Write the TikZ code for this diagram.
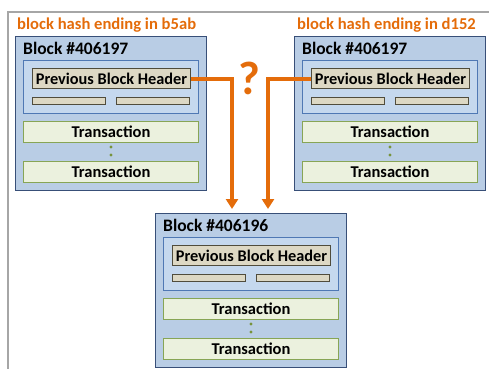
\documentclass[tikz,border=0pt]{standalone}
\usepackage{fontspec}
\setmainfont{Carlito}
\usetikzlibrary{arrows.meta}
\definecolor{orng}{RGB}{228,108,10}
\definecolor{blkfill}{RGB}{185,205,229}
\definecolor{blkline}{RGB}{56,79,120}
\definecolor{hdrfill}{RGB}{197,216,238}
\definecolor{hdrline}{RGB}{79,120,180}
\definecolor{pbhfill}{RGB}{221,216,196}
\definecolor{pbhline}{RGB}{80,76,60}
\definecolor{txfill}{RGB}{235,241,222}
\definecolor{txline}{RGB}{135,165,85}
\definecolor{dotc}{RGB}{119,147,60}
\tikzset{
  >={Triangle[length=10pt,width=12pt]},
  blk/.style ={draw=blkline, fill=blkfill, line width=1.2pt, anchor=north west, inner sep=0pt,
               minimum width=191pt, minimum height=154pt},
  hdr/.style ={draw=hdrline, fill=hdrfill, line width=1pt, anchor=north west, inner sep=0pt,
               minimum width=175pt, minimum height=53pt},
  pbh/.style ={draw=pbhline, fill=pbhfill, line width=1pt, anchor=north west, inner sep=0pt,
               minimum width=158pt, minimum height=20pt, font=\fontsize{16.3}{18}\selectfont\bfseries},
  bar/.style ={draw=pbhline, fill=pbhfill, line width=0.8pt, anchor=north west, inner sep=0pt,
               minimum width=73pt, minimum height=7pt},
  tx/.style  ={draw=txline, fill=txfill, line width=1pt, anchor=north west, inner sep=0pt,
               minimum width=175pt, minimum height=21pt, font=\fontsize{16.5}{18}\selectfont\bfseries},
  ttl/.style ={anchor=base west, inner sep=0pt, font=\fontsize{17.5}{19}\selectfont\bfseries},
  lbl/.style ={anchor=base west, inner sep=0pt, text=orng, font=\fontsize{16.6}{19}\selectfont\bfseries},
  qm/.style  ={inner sep=0pt, text=orng, font=\fontsize{47}{50}\selectfont\bfseries},
  link/.style={draw=orng, line width=4pt, ->},
  frm/.style ={draw=black!35, line width=1.5pt}
}
\begin{document}
\begin{tikzpicture}[x=1pt, y=-1pt]
\useasboundingbox (0,0) rectangle (489,369);
\draw[frm] (489,12) -- (8,12) -- (8,369);

% the three blocks
\foreach \n/\x/\y/\t in {a/15/36/406197, b/294/36/406197, c/155/213/406196} {
  \begin{scope}[shift={(\x,\y)}]
    \node[blk] (\n) at (0,0) {};
    \node[ttl] (\n-ttl) at (8,18) {Block \#\t};
    \node[hdr] (\n-hdr) at (8,24) {};
    \node[pbh] (\n-pbh) at (17,32) {Previous Block Header};
    \node[bar] (\n-bar1) at (17,61) {};
    \node[bar] (\n-bar2) at (101,61) {};
    \node[tx] (\n-tx1) at (8,85) {Transaction};
    \node[tx] (\n-tx2) at (8,125) {Transaction};
    \fill[dotc] (96,111) circle (1.7) (96,119) circle (1.7);
  \end{scope}
}

\node[lbl] (a-lbl) at (17,30) {block hash ending in b5ab};
\node[lbl] (b-lbl) at (297,30) {block hash ending in d152};

% both point to the same parent
\coordinate (inA) at (232,209);
\coordinate (inB) at (268,209);
\draw[link] (a-pbh.east) -| (inA);
\draw[link] (b-pbh.west) -| (inB);
\node[qm] (qm) at (249.5,78) {?};
\end{tikzpicture}
\end{document}
